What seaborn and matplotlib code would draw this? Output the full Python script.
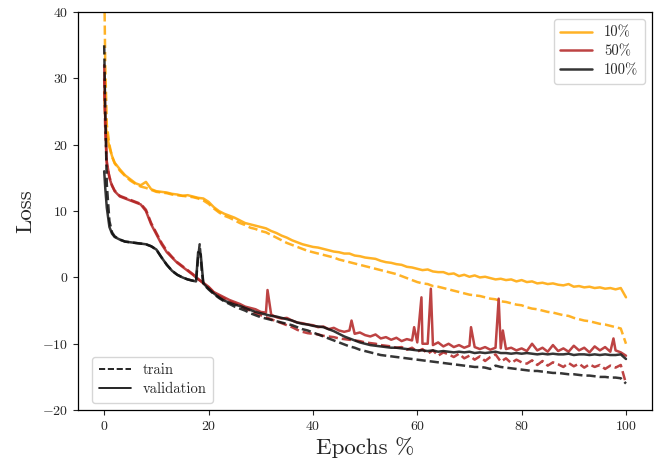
import matplotlib
matplotlib.use("Agg")
import matplotlib.pyplot as plt
from matplotlib.lines import Line2D
import seaborn as sns
import pandas as pd

# ---------------- data ----------------
epochs = [0, 0.2, 0.5, 1, 1.5, 2] + list(range(3, 101))

loss_10_val = [28, 24, 21.5, 19.6, 18.3, 17.3,
               16.3, 15.4, 14.8, 14.2, 13.9, 14.4, 13.3,
               13.0, 12.9, 12.8, 12.6, 12.5, 12.3, 12.4, 12.2, 12.0, 11.9,
               11.4, 10.6, 10.0, 9.6, 9.3, 9.0, 8.6, 8.2, 8.0, 7.8,
               7.6, 7.4, 7.0, 6.7, 6.3, 6.0, 5.6, 5.3, 5.0, 4.8,
               4.6, 4.5, 4.3, 4.1, 3.9, 3.8, 3.6, 3.6, 3.3, 3.2,
               3.0, 2.9, 2.8, 2.5, 2.3, 2.2, 2.0, 1.9, 1.6, 1.5,
               1.3, 1.1, 1.2, 0.9, 0.8, 0.8, 0.5, 0.6, 0.2, 0.4,
               0.1, 0.3, 0.0, 0.1, -0.1, -0.3, -0.2, -0.4, -0.3, -0.6,
               -0.4, -0.7, -0.6, -0.9, -0.8, -1.0, -0.9, -1.1, -1.2, -1.0,
               -1.4, -1.3, -1.5, -1.4, -1.6, -1.5, -1.7, -1.6, -1.8, -1.6,
               -3.0]

loss_10_train = [45, 32, 23, 20, 18.2, 17.2,
                 16.1, 15.3, 14.6, 14.1, 13.7, 13.5, 13.2,
                 12.9, 12.8, 12.7, 12.5, 12.4, 12.3, 12.2, 12.1, 11.9, 11.6,
                 11.1, 10.4, 9.8, 9.3, 9.0, 8.6, 8.2, 7.9, 7.5, 7.3,
                 7.0, 6.8, 6.4, 6.0, 5.6, 5.2, 4.9, 4.6, 4.3, 4.0,
                 3.8, 3.6, 3.4, 3.2, 3.0, 2.7, 2.5, 2.3, 2.1, 1.9,
                 1.7, 1.5, 1.3, 1.1, 0.9, 0.7, 0.5, 0.2, -0.1, -0.4,
                 -0.7, -0.9, -1.0, -1.3, -1.4, -1.6, -1.8, -2.0, -2.2, -2.4,
                 -2.6, -2.7, -2.8, -3.0, -3.2, -3.3, -3.6, -3.7, -3.9, -4.1,
                 -4.2, -4.5, -4.7, -4.8, -5.0, -5.2, -5.3, -5.5, -5.7, -5.8,
                 -6.1, -6.3, -6.5, -6.6, -6.8, -7.0, -7.1, -7.3, -7.5, -7.7,
                 -10.0]

loss_50_val = [32, 24, 17.5, 15.0, 13.8, 13.0,
               12.2, 11.9, 11.6, 11.3, 11.0, 10.0, 8.0,
               6.5, 5.0, 3.8, 3.0, 2.2, 1.6, 1.0, 0.4, -0.3, -0.8,
               -1.4, -2.2, -2.6, -3.0, -3.4, -3.7, -4.0, -4.4, -4.6, -4.8,
               -5.2, -5.3, -5.6, -6.0, -6.2, -6.1, -6.5, -6.8, -6.9, -7.1,
               -7.2, -7.5, -7.4, -7.8, -7.6, -8.0, -8.2, -8.0, -8.5, -8.3,
               -8.7, -8.9, -8.6, -9.2, -9.0, -9.4, -9.1, -9.6, -9.3, -9.5,
               -9.8, -10.0, -10.0, -10.2, -9.8, -10.4, -10.0, -10.5, -10.2, -10.6,
               -10.3, -10.5, -10.8, -10.5, -10.9, -10.6, -10.7, -10.8, -10.6, -11.0,
               -10.7, -11.1, -10.0, -11.0, -10.6, -11.2, -10.2, -11.1, -10.7, -11.2,
               -10.3, -11.0, -10.6, -11.3, -10.4, -11.0, -10.5, -11.2, -11.0, -11.3,
               -11.8]
spike_50_epochs = [31.3, 47.4, 59.4, 60.8, 62.6, 70.3, 75.6, 76.4, 97.6]
spike_50_loss = [-1.9, -6.5, -7.5, -3.0, -1.7, -7.5, -3.2, -8.0, -9.2]

loss_50_train = [30, 22, 17, 15.2, 13.9, 13.1,
                 12.3, 12.0, 11.7, 11.4, 11.1, 10.2, 8.2,
                 6.7, 5.2, 4.0, 3.1, 2.3, 1.7, 1.1, 0.5, -0.2, -0.9,
                 -1.5, -2.3, -2.8, -3.2, -3.6, -3.9, -4.3, -4.7, -5.0, -5.4,
                 -5.7, -6.0, -6.3, -6.6, -6.9, -7.2, -7.5, -7.9, -8.2, -8.4,
                 -8.5, -8.6, -8.8, -8.9, -9.0, -9.2, -9.3, -9.4, -9.5, -9.6,
                 -9.8, -9.9, -10.0, -10.2, -10.3, -10.4, -10.6, -10.5, -10.9, -10.6,
                 -11.2, -10.8, -11.5, -11.0, -11.8, -11.3, -11.6, -12.0, -11.5, -12.2,
                 -11.8, -12.4, -11.9, -12.6, -12.0, -11.6, -12.7, -12.2, -12.9, -12.4,
                 -12.8, -13.0, -12.5, -13.2, -12.6, -13.3, -12.8, -13.1, -13.5, -12.9,
                 -13.4, -13.0, -13.6, -13.1, -13.5, -13.2, -13.8, -13.3, -13.6, -13.2,
                 -16.0]

loss_100_val = [16.0, 13.5, 10.5, 7.6, 6.6, 6.1,
                5.7, 5.4, 5.3, 5.2, 5.1, 5.0, 4.7,
                4.2, 3.0, 1.9, 1.0, 0.4, 0.0, -0.3, -0.5, 3.8, -0.9,
                -1.7, -2.4, -3.0, -3.5, -3.8, -4.1, -4.3, -4.6, -4.9, -5.2,
                -5.4, -5.6, -5.8, -5.9, -6.1, -6.3, -6.5, -6.8, -7.0, -7.1,
                -7.3, -7.4, -7.5, -7.8, -8.1, -8.5, -8.9, -9.2, -9.5, -9.8,
                -10.0, -10.2, -10.3, -10.4, -10.5, -10.6, -10.6, -10.7, -10.8, -10.9,
                -11.0, -11.0, -11.1, -11.0, -11.2, -11.1, -11.2, -11.3, -11.2, -11.3,
                -11.2, -11.4, -11.3, -11.4, -11.3, -11.2, -11.4, -11.4, -11.5, -11.4,
                -11.5, -11.4, -11.5, -11.6, -11.5, -11.6, -11.5, -11.6, -11.6, -11.5,
                -11.7, -11.6, -11.6, -11.7, -11.6, -11.7, -11.6, -11.7, -11.7, -11.6,
                -12.3]
spike_100_val_epochs = [17.6, 18.5]
spike_100_val_loss = [-0.6, 3.5]

loss_100_train = [35, 25, 14, 8.5, 6.8, 6.2,
                  5.7, 5.4, 5.3, 5.2, 5.1, 5.0, 4.7,
                  4.2, 3.0, 1.9, 1.0, 0.4, 0.0, -0.3, -0.5, 3.0, -1.0,
                  -1.8, -2.5, -3.1, -3.6, -4.0, -4.4, -4.7, -5.0, -5.4, -5.7,
                  -6.0, -6.2, -6.4, -6.6, -6.8, -7.0, -7.2, -7.5, -7.8, -8.0,
                  -8.3, -8.6, -8.9, -9.2, -9.5, -9.8, -10.1, -10.4, -10.6, -10.9,
                  -11.1, -11.3, -11.5, -11.7, -11.8, -11.9, -12.0, -12.1, -12.2, -12.3,
                  -12.4, -12.5, -12.6, -12.7, -12.8, -12.9, -13.0, -13.1, -13.2, -13.3,
                  -13.4, -13.5, -13.5, -13.6, -13.8, -13.3, -13.5, -13.6, -13.7, -13.8,
                  -13.9, -14.0, -14.1, -14.1, -14.2, -14.3, -14.4, -14.4, -14.5, -14.6,
                  -14.6, -14.7, -14.8, -14.8, -14.9, -15.0, -15.0, -15.1, -15.1, -15.2,
                  -16.0]
spike_100_train_epochs = [17.6, 18.3, 18.7]
spike_100_train_loss = [-0.6, 5.0, 1.0]

fractions = ["10%", "50%", "100%"]
colors = {"10%": "#FFA500", "50%": "#B22222", "100%": "#111111"}

# ---------------- style ----------------
sns.set_style("ticks")
plt.rcParams["font.family"] = ["serif"]
plt.rcParams["font.serif"] = ["cmr10", "DejaVu Serif"]
plt.rcParams["mathtext.fontset"] = "cm"
plt.rcParams["axes.formatter.use_mathtext"] = True
plt.rcParams["axes.unicode_minus"] = True


def series(x, y, sx=None, sy=None):
    df = pd.DataFrame({"epoch": list(x), "loss": list(y)})
    if sx:
        df = pd.concat([df, pd.DataFrame({"epoch": sx, "loss": sy})])
    return df.sort_values("epoch").reset_index(drop=True)


curves = [
    ("10%", "train", series(epochs, loss_10_train)),
    ("10%", "validation", series(epochs, loss_10_val)),
    ("50%", "train", series(epochs, loss_50_train)),
    ("50%", "validation", series(epochs, loss_50_val, spike_50_epochs, spike_50_loss)),
    ("100%", "train", series(epochs, loss_100_train, spike_100_train_epochs, spike_100_train_loss)),
    ("100%", "validation", series(epochs, loss_100_val, spike_100_val_epochs, spike_100_val_loss)),
]

fig, ax = plt.subplots(figsize=(6.62, 4.66), dpi=100)
fig.subplots_adjust(left=0.118, right=0.985, top=0.974, bottom=0.12)

for frac, kind, df in curves:
    sns.lineplot(data=df, x="epoch", y="loss", ax=ax, color=colors[frac],
                 alpha=0.85, linewidth=1.8, sort=False, estimator=None,
                 linestyle="--" if kind == "train" else "-", legend=False)

ax.set_xlim(-5, 105)
ax.set_ylim(-20, 40)
ax.set_xticks([0, 20, 40, 60, 80, 100])
ax.set_yticks([-20, -10, 0, 10, 20, 30, 40])
ax.tick_params(labelsize=10, direction="out", length=3.5, width=0.8)
ax.set_xlabel("Epochs %", fontsize=16.5, labelpad=3)
ax.set_ylabel("Loss", fontsize=16.5, labelpad=5)
for s in ax.spines.values():
    s.set_linewidth(0.9)
    s.set_color("black")

h1 = [Line2D([0], [0], color=colors[f], alpha=0.85, lw=1.8) for f in fractions]
leg1 = ax.legend(h1, fractions, loc="upper right", fontsize=10.5,
                 frameon=True, fancybox=True, framealpha=0.8, edgecolor="#cccccc",
                 handlelength=2.2, borderpad=0.45, labelspacing=0.35)
ax.add_artist(leg1)
h2 = [Line2D([0], [0], color="black", lw=1.2, ls="--"),
      Line2D([0], [0], color="black", lw=1.2, ls="-")]
ax.legend(h2, ["train", "validation"], loc="lower left", fontsize=10.5,
          frameon=True, fancybox=True, framealpha=0.8, edgecolor="#cccccc",
          handlelength=2.2, borderpad=0.45, labelspacing=0.35,
          bbox_to_anchor=(0.012, 0.0))

fig.savefig("out.png", dpi=100)
